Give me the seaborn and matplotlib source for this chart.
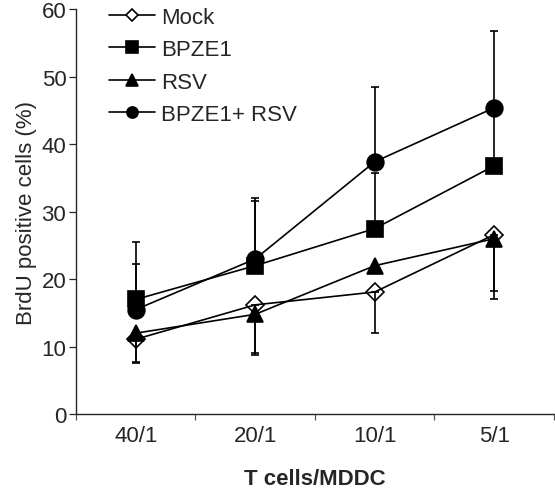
import matplotlib
matplotlib.use('Agg')
import matplotlib.pyplot as plt
from matplotlib.lines import Line2D
import pandas as pd
import seaborn as sns

# data
ratios = ['40/1', '20/1', '10/1', '5/1']
series = ['Mock', 'BPZE1', 'RSV', 'BPZE1+ RSV']

mock = [11.1, 16.2, 18.1, 26.6]
bpze1 = [17.0, 22.0, 27.5, 36.8]
rsv = [12.0, 14.8, 22.0, 26.0]
bpze1_rsv = [15.5, 23.0, 37.4, 45.4]

# error bars (one-sided in the figure)
mock_err_lo = [3.5, 7.2, 6.1, 8.4]
rsv_err_lo = [4.3, 6.1, 0.0, 9.0]
bpze1_err_hi = [5.3, 9.6, 8.2, 7.5]
bpze1_rsv_err_hi = [10.0, 9.0, 11.1, 11.4]

sns.set_style('ticks')
plt.rcParams['font.family'] = ['Liberation Sans', 'DejaVu Sans']

fig = plt.figure(figsize=(5.55, 4.89), dpi=100)
ax = fig.add_axes([0.137, 0.151, 0.861, 0.828])

values = {'Mock': mock, 'BPZE1': bpze1, 'RSV': rsv, 'BPZE1+ RSV': bpze1_rsv}
rows = []
for s in series:
	for i, r in enumerate(ratios):
		rows.append({'series': s, 'x': i, 'value': values[s][i]})
df = pd.DataFrame(rows)

markers = {'Mock': 'D', 'BPZE1': 's', 'RSV': '^', 'BPZE1+ RSV': 'o'}
sizes = {'Mock': 9.5, 'BPZE1': 11, 'RSV': 11, 'BPZE1+ RSV': 12}
faces = {'Mock': 'none', 'BPZE1': 'black', 'RSV': 'black', 'BPZE1+ RSV': 'black'}
errs = {
	'Mock': ([mock_err_lo, [0] * 4], 5),
	'BPZE1': ([[0] * 4, bpze1_err_hi], 3),
	'RSV': ([rsv_err_lo, [0] * 4], 4),
	'BPZE1+ RSV': ([[0] * 4, bpze1_rsv_err_hi], 3),
}

for s in series:
	sub = df[df['series'] == s]
	yerr, z = errs[s]
	ax.errorbar(sub['x'], sub['value'], yerr=yerr, fmt='none', ecolor='black',
		elinewidth=1.2, capsize=3, capthick=1.2, zorder=z - 0.5)
	sns.lineplot(data=sub, x='x', y='value', ax=ax, color='black', linewidth=1.2,
		marker=markers[s], markersize=sizes[s], markerfacecolor=faces[s],
		markeredgecolor='black', markeredgewidth=1.2, zorder=z, legend=False)

ax.set_xlim(-0.5, 3.5)
ax.set_ylim(0, 60)
ax.set_yticks(range(0, 61, 10))
ax.set_xticks([-0.5, 0.5, 1.5, 2.5, 3.5])
ax.set_xticklabels([])
ax.set_xticks(range(len(ratios)), minor=True)
ax.set_xticklabels(ratios, minor=True)
ax.tick_params(axis='x', which='minor', length=0, pad=8, labelsize=16)
ax.tick_params(axis='x', which='major', length=4, width=0.9, color='#555555')
ax.tick_params(axis='y', length=5, width=0.9, pad=2, labelsize=16)

for sp in ['top', 'right']:
	ax.spines[sp].set_visible(False)
for sp in ['left', 'bottom']:
	ax.spines[sp].set_linewidth(1.0)

ax.set_xlabel('T cells/MDDC', fontsize=16, fontweight='bold', labelpad=16)
ax.set_ylabel('BrdU positive cells (%)', fontsize=16, labelpad=3)

leg_sizes = {'Mock': 6, 'BPZE1': 8, 'RSV': 9, 'BPZE1+ RSV': 8}
handles = [Line2D([], [], color='black', linewidth=1.2, marker=markers[s],
	markersize=leg_sizes[s], markerfacecolor='white' if s == 'Mock' else 'black',
	markeredgecolor='black', markeredgewidth=1.2) for s in series]
ax.legend(handles, series, loc='upper left', bbox_to_anchor=(0.036, 1.045), frameon=False,
	fontsize=16, handlelength=2.1, labelspacing=0.52, handletextpad=0.25, borderpad=0.2)

fig.savefig('out.png', dpi=100)
